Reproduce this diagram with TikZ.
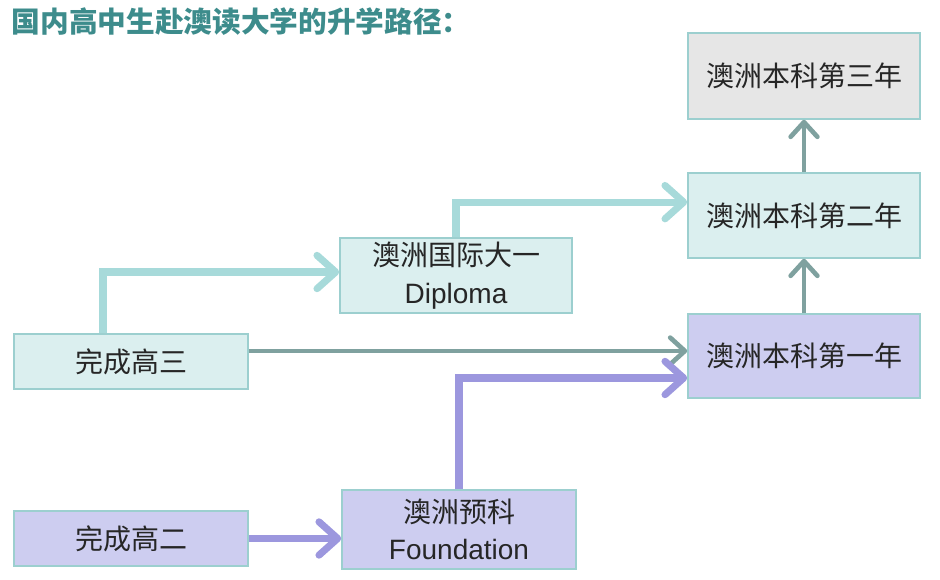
\documentclass[tikz,border=0pt]{standalone}
\usepackage{fontspec}
\setmainfont{Liberation Sans}
\newfontfamily\cjk{Noto Sans CJK SC}
\usepackage{xcolor}
\usetikzlibrary{arrows.meta}
\definecolor{BoxLine}{HTML}{9CCFCF}
\definecolor{TealFill}{HTML}{DBEFEF}
\definecolor{GreyFill}{HTML}{E6E6E6}
\definecolor{LilacFill}{HTML}{CDCDF0}
\definecolor{TealArrow}{HTML}{A7DADA}
\definecolor{GreyArrow}{HTML}{7FA19F}
\definecolor{LilacArrow}{HTML}{9C97DE}
\definecolor{TitleTeal}{HTML}{3D8C8C}

\begin{document}
\begin{tikzpicture}[x=0.75pt, y=-0.75pt,
	box/.style={draw=BoxLine, line width=1.2pt, minimum width=174pt, text=black!85, font=\fontsize{21}{28}\selectfont, align=center, inner sep=0pt},
	tealbox/.style={box, fill=TealFill},
	greybox/.style={box, fill=GreyFill},
	lilacbox/.style={box, fill=LilacFill},
	lightpath/.style={line width=5.3pt, -{Straight Barb[length=14pt, width=25pt, line width=5.3pt, round]}},
	greypath/.style={GreyArrow, line width=3.5pt, -{Straight Barb[length=11pt, width=20pt, line width=3.5pt, round]}}]
	\useasboundingbox (0,0) rectangle (940,580);
	\node[anchor=west, text=TitleTeal, font=\cjk\bfseries\fontsize{21.5}{26}\selectfont] (title) at (7,22) {国内高中生赴澳读大学的升学路径：};
	\node[greybox, minimum height=64.5pt] (year3) at (804,76) {\cjk 澳洲本科第三年};
	\node[tealbox, minimum height=63.75pt] (year2) at (804,215.5) {\cjk 澳洲本科第二年};
	\node[lilacbox, minimum height=63pt] (year1) at (804,356) {\cjk 澳洲本科第一年};
	\node[tealbox, minimum height=56.25pt] (diploma) at (456,275.5) {{\cjk 澳洲国际大一}\\Diploma};
	\node[tealbox, minimum width=175.5pt, minimum height=41.25pt] (gaosan) at (131,361.5) {\cjk 完成高三};
	\node[lilacbox, minimum width=175.5pt, minimum height=41.25pt] (gaoer) at (131,538.5) {\cjk 完成高二};
	\node[lilacbox, minimum width=175.5pt, minimum height=59.25pt] (found) at (459,529.5) {{\cjk 澳洲预科}\\Foundation};
	\draw[lightpath, TealArrow] ([xshift=-21pt]gaosan.north) |- ([yshift=2.6pt]diploma.west);
	\draw[lightpath, TealArrow] (diploma.north) |- ([yshift=10pt]year2.west);
	\draw[greypath] ([yshift=7.9pt]gaosan.east) -- ([yshift=7.9pt]gaosan.east -| year1.west);
	\draw[lightpath, LilacArrow] (gaoer.east) -- (gaoer.east -| found.west);
	\draw[lightpath, LilacArrow] (found.north) |- ([yshift=-16.5pt]year1.west);
	\draw[greypath] (year1.north) -- (year2.south);
	\draw[greypath] (year2.north) -- (year3.south);
\end{tikzpicture}
\end{document}
